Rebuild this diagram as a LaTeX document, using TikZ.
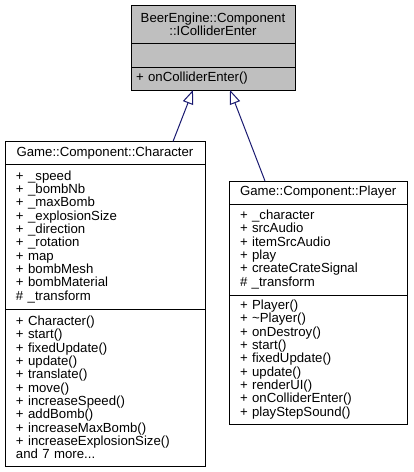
\documentclass[tikz,border=0pt]{standalone}
\usepackage{fontspec}
\setmainfont{Liberation Sans}
\usetikzlibrary{arrows.meta}
\definecolor{edgeblue}{HTML}{191970}
\definecolor{headgray}{HTML}{BFBFBF}
\tikzset{
  classpart/.style={draw=black, fill=white, line width=0.75pt, anchor=north west,
    inner ysep=0pt, outer sep=0pt, align=left, font=\fontsize{9.9}{10}\selectfont},
  ifacepart/.style={classpart, fill=headgray, text width=115.5pt, inner xsep=3.75pt},
  charpart/.style={classpart, text width=133.5pt, inner xsep=8.25pt},
  playerpart/.style={classpart, text width=117pt, inner xsep=8.25pt},
  inherit/.style={draw=edgeblue, line width=0.75pt,
    -{Triangle[open, length=10.5pt, width=8pt, fill=white]}}
}
\begin{document}
\begin{tikzpicture}[x=0.75pt, y=-0.75pt]
  \useasboundingbox (0,0) rectangle (414,472);
  % Base interface
  \node[ifacepart, align=center, minimum height=28.5pt] (ifacename) at (131,5)
    {BeerEngine::Component\\::IColliderEnter};
  \node[ifacepart, minimum height=18pt] (ifaceattr) at (ifacename.south west) {};
  \node[ifacepart, minimum height=17.25pt] (ifaceops) at (ifaceattr.south west)
    {+ onColliderEnter()};
  % Character
  \node[charpart, align=center, minimum height=17.25pt] (charname) at (5,141.5)
    {Game::Component::Character};
  \node[charpart, minimum height=108.4pt] (charattr) at (charname.south west)
    {+ \_speed\\+ \_bombNb\\+ \_maxBomb\\+ \_explosionSize\\+ \_direction\\
     + \_rotation\\+ map\\+ bombMesh\\+ bombMaterial\\\# \_transform};
  \node[charpart, minimum height=117.75pt] (charops) at (charattr.south west)
    {+ Character()\\+ start()\\+ fixedUpdate()\\+ update()\\+ translate()\\
     + move()\\+ increaseSpeed()\\+ addBomb()\\+ increaseMaxBomb()\\
     + increaseExplosionSize()\\and 7 more...};
  % Player
  \node[playerpart, align=center, minimum height=17.25pt] (playername) at (229,181)
    {Game::Component::Player};
  \node[playerpart, minimum height=68.25pt] (playerattr) at (playername.south west)
    {+ \_character\\+ srcAudio\\+ itemSrcAudio\\+ play\\+ createCrateSignal\\
     \# \_transform};
  \node[playerpart, minimum height=96.75pt] (playerops) at (playerattr.south west)
    {+ Player()\\+ \textasciitilde Player()\\+ onDestroy()\\+ start()\\
     + fixedUpdate()\\+ update()\\+ renderUI()\\+ onColliderEnter()\\
     + playStepSound()};
  % Inheritance
  \draw[inherit] ([xshift=126pt]charname.north west) -- ([xshift=46.5pt]ifaceops.south west);
  \draw[inherit] ([xshift=27pt]playername.north west) -- ([xshift=74.25pt]ifaceops.south west);
\end{tikzpicture}
\end{document}
